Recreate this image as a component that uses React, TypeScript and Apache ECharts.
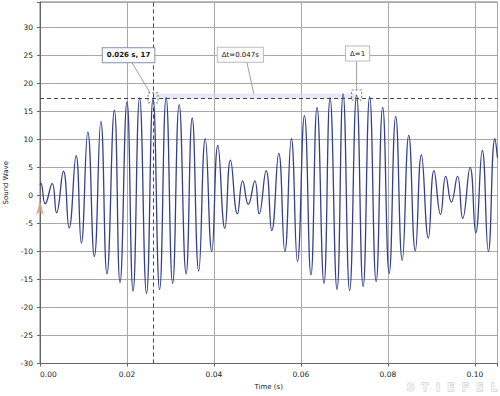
import React, { useEffect, useRef } from "react";
import * as echarts from "echarts";

// Extrema of the sound wave (time in s, value)
const times = [
  0, 0.0002, 0.0012, 0.0028, 0.0038, 0.0054, 0.0067, 0.0083, 0.0095, 0.011,
  0.0125, 0.014, 0.0154, 0.0171, 0.0184, 0.02, 0.0214, 0.0229, 0.0245, 0.026,
  0.0275, 0.029, 0.0305, 0.032, 0.0336, 0.035, 0.0365, 0.038, 0.0395, 0.0409,
  0.0425, 0.0438, 0.0454, 0.0466, 0.0479, 0.0494, 0.0504, 0.052, 0.0533, 0.0549,
  0.0563, 0.0578, 0.0592, 0.0608, 0.0623, 0.0637, 0.0653, 0.0667, 0.0683, 0.0697,
  0.0712, 0.0728, 0.0743, 0.0758, 0.0773, 0.0788, 0.0803, 0.0818, 0.0833, 0.0848,
  0.0863, 0.0877, 0.0893, 0.0906, 0.0921, 0.0933, 0.0946, 0.096, 0.0972, 0.0989,
  0.1002, 0.1017, 0.1031, 0.1046, 0.1052,
];
const values = [
  1.9, 2.2, -1.5, 2.1, -3.1, 4.3, -5.8, 7.1, -8.5, 11.3,
  -10.9, 13.2, -14.0, 15.2, -15.6, 16.7, -17.1, 17.4, -17.5, 17.4,
  -16.8, 17.5, -15.7, 16.2, -14.0, 13.8, -13.5, 10.1, -10.0, 8.9,
  -5.9, 6.3, -3.3, 2.6, -1.6, 2.6, -3.3, 4.4, -6.3, 7.5,
  -10.0, 10.1, -11.8, 14.2, -14.2, 15.7, -15.7, 17.4, -16.8, 18.1,
  -17.0, 17.9, -16.3, 17.6, -15.4, 15.7, -13.9, 14.1, -11.6, 10.7,
  -9.9, 7.2, -7.6, 4.4, -3.4, 3.4, -1.2, 3.4, -4.1, 5.0,
  -6.7, 8.0, -10.0, 10.1, 6.7,
];

// Cursor annotations
const cursorA = [0.026, 17.4];
const cursorB = [0.0728, 17.9];
const labelA = "0.026 s, 17";
const labelDt = "\u0394t=0.047s";
const labelDy = "\u0394=1";
const startMarker = [0, -1.0];

const xMin = 0;
const xMax = 0.1052;
const xStep = 0.02;
const yMin = -30;
const yMax = 34.5;
const yStep = 5;

const FONT = "DejaVu Sans";

export default function App() {
  const ref = useRef<HTMLDivElement>(null);

  useEffect(() => {
    if (!ref.current) return;
    const chart = echarts.init(ref.current, undefined, { renderer: "svg" });
    const data = times.map((t, i) => [t, values[i]]);

    chart.setOption({
      animation: false,
      grid: {
        left: 40,
        right: 2.5,
        top: 2,
        bottom: 32.5,
        show: true,
        borderColor: "#777",
        borderWidth: 1,
        containLabel: false,
        outerBoundsMode: "none",
      },
      xAxis: {
        type: "value",
        min: xMin,
        max: xMax,
        interval: xStep,
        name: "Time (s)",
        nameLocation: "middle",
        nameGap: 18,
        nameTextStyle: { fontFamily: FONT, fontSize: 7, color: "#222" },
        axisLine: { show: true, onZero: false, lineStyle: { color: "#666" } },
        axisTick: { show: true, length: 3, lineStyle: { color: "#666" } },
        axisLabel: {
          fontFamily: FONT,
          fontSize: 7.5,
          color: "#222",
          margin: 7,
          alignMinLabel: "left",
          formatter: (v: number) =>
            Math.abs(v / xStep - Math.round(v / xStep)) < 1e-6 ? v.toFixed(2) : "",
        },
        splitLine: { show: true, lineStyle: { color: "#a8a8a8", width: 1 } },
      },
      yAxis: {
        type: "value",
        min: yMin,
        max: yMax,
        interval: yStep,
        name: "Sound Wave",
        nameLocation: "middle",
        nameGap: 27,
        nameTextStyle: { fontFamily: FONT, fontSize: 7, color: "#222" },
        axisLine: { show: true, onZero: false, lineStyle: { color: "#666" } },
        axisTick: { show: true, length: 3, lineStyle: { color: "#666" } },
        axisLabel: {
          fontFamily: FONT,
          fontSize: 7.5,
          color: "#222",
          margin: 7,
          formatter: (v: number) => (v % yStep === 0 ? String(v) : ""),
        },
        splitLine: { show: true, lineStyle: { color: "#a8a8a8", width: 1 } },
      },
      series: [
        {
          type: "line",
          data,
          smooth: 0.5,
          showSymbol: false,
          symbol: "none",
          lineStyle: { color: "#33408c", width: 1.3 },
          z: 3,
          markLine: {
            silent: true,
            symbol: "none",
            label: { show: false },
            lineStyle: { color: "#444", type: [4, 3], width: 1 },
            data: [
              [{ coord: [cursorA[0], yMin] }, { coord: [cursorA[0], yMax] }],
              [{ coord: [xMin, cursorA[1]] }, { coord: [xMax, cursorA[1]] }],
            ],
          },
          markPoint: {
            silent: true,
            data: [
              {
                coord: startMarker,
                symbol: "arrow",
                symbolSize: [6, 14],
                itemStyle: { color: "rgba(214,160,130,0.85)" },
                label: { show: false },
              },
            ],
          },
        },
      ],
    });

    const pA = chart.convertToPixel({ xAxisIndex: 0, yAxisIndex: 0 }, cursorA) as number[];
    const pB = chart.convertToPixel({ xAxisIndex: 0, yAxisIndex: 0 }, cursorB) as number[];
    const midX = (pA[0] + pB[0]) / 2;

    const boxText = (text: string, cx: number, cy: number, border: string, bold: boolean) => ({
      type: "text",
      x: cx,
      y: cy,
      z: 20,
      style: {
        text,
        align: "center",
        verticalAlign: "middle",
        fontFamily: FONT,
        fontSize: 7,
        fontWeight: bold ? "bold" : "normal",
        fill: "#111",
        backgroundColor: "#fff",
        borderColor: border,
        borderWidth: 1,
        padding: [4, 4, 3, 4],
      },
    });

    const dashedSquare = (p: number[]) => ({
      type: "rect",
      z: 15,
      shape: { x: p[0] - 5, y: p[1] - 5, width: 10, height: 10 },
      style: { fill: "none", stroke: "#777", lineWidth: 1, lineDash: [2, 2] },
    });

    const leader = (x1: number, y1: number, x2: number, y2: number) => ({
      type: "line",
      z: 14,
      shape: { x1, y1, x2, y2 },
      style: { stroke: "#888", lineWidth: 0.8 },
    });

    chart.setOption({
      graphic: [
        {
          type: "rect",
          z: 1,
          shape: {
            x: pA[0],
            y: pB[1] - 1.5,
            width: pB[0] - pA[0],
            height: pA[1] + 1 - (pB[1] - 1.5),
          },
          style: { fill: "rgba(215,215,240,0.6)" },
        },
        dashedSquare(pA),
        dashedSquare(pB),
        leader(pA[0] - 21, pA[1] - 35, pA[0] - 3, pA[1] - 5),
        leader(midX - 8, pA[1] - 36, midX - 1, pA[1] - 4),
        leader(pB[0], pB[1] - 35, pB[0], pB[1] - 5),
        boxText(labelA, pA[0] - 24.5, pA[1] - 42.5, "#7f8fae", true),
        boxText(labelDt, midX - 14.5, pA[1] - 43, "#bbbbbb", false),
        boxText(labelDy, pB[0] + 1, pB[1] - 41.5, "#bbbbbb", false),
        {
          type: "text",
          x: 452,
          y: 387,
          z: 20,
          style: {
            text: "S  T  I  E  F  E  L",
            align: "center",
            verticalAlign: "middle",
            fontFamily: FONT,
            fontSize: 10.5,
            fontWeight: "bold",
            fill: "#f4f4f4",
            stroke: "#c4c4c4",
            lineWidth: 0.8,
          },
        },
      ],
    });

    return () => chart.dispose();
  }, []);

  return (
    <div
      ref={ref}
      style={{ width: 500, height: 396, position: "absolute", left: 0, top: 0, background: "#fff" }}
    />
  );
}
